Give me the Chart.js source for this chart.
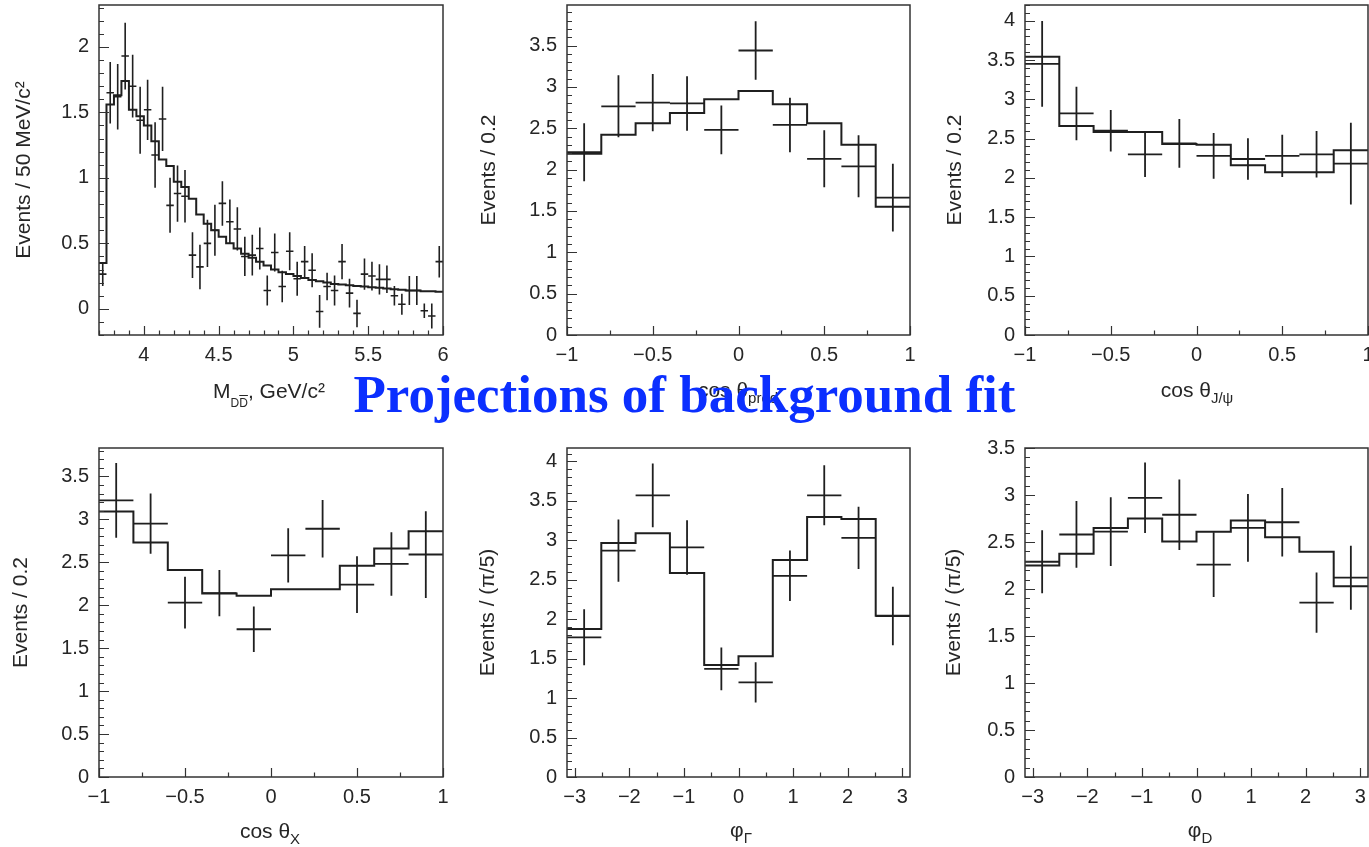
<!DOCTYPE html>
<html>
<head>
<meta charset="utf-8">
<script src="https://cdn.jsdelivr.net/npm/chart.js@4.4.1/dist/chart.umd.min.js"></script>
<style>
  html, body { margin: 0; padding: 0; background: #fff; width: 1369px; height: 847px; overflow: hidden; }
  canvas { position: absolute; left: 0; top: 0; }
  .xt { position: absolute; font: 21px/21px 'Liberation Sans', Arial, sans-serif; color: #262626;
        white-space: nowrap; transform: translateX(-50%); }
  .xt sub { font-size: 15px; line-height: 0; vertical-align: -6px; }
  .xt sub.small { font-size: 12px; vertical-align: -9px; }
  .ov { text-decoration: overline; }
  #title { position: absolute; left: 0; width: 1369px; top: 368px; text-align: center; white-space: nowrap;
           font: bold 53px/53px 'Liberation Serif', 'Times New Roman', serif; color: #0b2fff; }
</style>
</head>
<body>
<canvas id="c1" width="1369" height="847"></canvas>
<canvas id="c2" width="1369" height="847"></canvas>
<canvas id="c3" width="1369" height="847"></canvas>
<canvas id="c4" width="1369" height="847"></canvas>
<canvas id="c5" width="1369" height="847"></canvas>
<canvas id="c6" width="1369" height="847"></canvas>

<div class="xt" style="left:269px;top:380px">M<sub class="small">D<span class="ov">D</span></sub>, GeV/c²</div>
<div class="xt" style="left:738px;top:379px">cos θ<sub>prod</sub></div>
<div class="xt" style="left:1197px;top:379px">cos θ<sub>J/ψ</sub></div>
<div class="xt" style="left:270px;top:820px">cos θ<sub>X</sub></div>
<div class="xt" style="left:741px;top:819px">φ<sub>Γ</sub></div>
<div class="xt" style="left:1200px;top:819px">φ<sub>D</sub></div>
<div id="title">Projections of background fit</div>

<script>
// ---- M(DD̄): 46 bins of 50 MeV between 3.70 and 6.00 GeV/c² ----
const mddRange = [3.70, 6.00];
const mddData = [0.265, 1.65, 1.62, 1.93, 1.70, 1.44, 1.52, 1.175, 1.45, 0.79,
                 0.88, 0.86, 0.41, 0.32, 0.50, 0.60, 0.805, 0.665, 0.61, 0.40,
                 0.41, 0.46, 0.14, 0.43, 0.17, 0.44, 0.23, 0.36, 0.295, -0.02,
                 0.17, 0.14, 0.36, 0.12, -0.035, 0.265, 0.25, 0.225, 0.225, 0.10,
                 0.035, 0.14, 0.14, -0.015, -0.055, 0.36];
const mddErr  = [0.09, 0.235, 0.25, 0.255, 0.24, 0.255, 0.23, 0.25, 0.245, 0.21,
                 0.215, 0.20, 0.175, 0.17, 0.18, 0.195, 0.17, 0.17, 0.165, 0.15,
                 0.155, 0.16, 0.115, 0.145, 0.12, 0.145, 0.13, 0.12, 0.13, 0.125,
                 0.105, 0.115, 0.135, 0.11, 0.105, 0.12, 0.11, 0.115, 0.105, 0.075,
                 0.08, 0.11, 0.11, 0.055, 0.095, 0.12];
const mddFit  = [0.35, 1.56, 1.63, 1.74, 1.52, 1.47, 1.40, 1.28, 1.14, 1.09,
                 0.97, 0.93, 0.84, 0.72, 0.65, 0.60, 0.55, 0.50, 0.46, 0.42,
                 0.39, 0.36, 0.33, 0.30, 0.28, 0.265, 0.25, 0.235, 0.22, 0.21,
                 0.20, 0.19, 0.185, 0.18, 0.175, 0.17, 0.165, 0.16, 0.155, 0.15,
                 0.145, 0.14, 0.14, 0.135, 0.135, 0.13];
const mddXTicks = [4, 4.5, 5, 5.5, 6];
const mddYTicks = [0, 0.5, 1, 1.5, 2];

// ---- angular projections: 10 bins each ----
const cosRange = [-1, 1];
const phiRange = [-Math.PI, Math.PI];
const cosXTicks = [-1, -0.5, 0, 0.5, 1];
const phiXTicks = [-3, -2, -1, 0, 1, 2, 3];

const prodData = [2.21, 2.765, 2.81, 2.80, 2.48, 3.44, 2.54, 2.13, 2.04, 1.66];
const prodErr  = [0.35, 0.375, 0.345, 0.33, 0.295, 0.355, 0.33, 0.345, 0.375, 0.41];
const prodFit  = [2.19, 2.42, 2.56, 2.685, 2.85, 2.95, 2.79, 2.56, 2.30, 1.55];
const prodYTicks = [0, 0.5, 1, 1.5, 2, 2.5, 3, 3.5];

const jpsiData = [3.45, 2.82, 2.60, 2.30, 2.44, 2.28, 2.24, 2.28, 2.30, 2.18];
const jpsiErr  = [0.545, 0.34, 0.265, 0.29, 0.31, 0.29, 0.265, 0.27, 0.295, 0.52];
const jpsiFit  = [3.54, 2.66, 2.585, 2.585, 2.43, 2.42, 2.16, 2.07, 2.07, 2.35];
const jpsiYTicks = [0, 0.5, 1, 1.5, 2, 2.5, 3, 3.5, 4];

const cosXData = [3.22, 2.95, 2.03, 2.14, 1.72, 2.58, 2.89, 2.24, 2.48, 2.59];
const cosXErr  = [0.435, 0.35, 0.30, 0.27, 0.265, 0.315, 0.335, 0.33, 0.37, 0.505];
const cosXFit  = [3.09, 2.73, 2.41, 2.135, 2.11, 2.185, 2.185, 2.46, 2.66, 2.86];
const cosXYTicks = [0, 0.5, 1, 1.5, 2, 2.5, 3, 3.5];

const phiGData = [1.77, 2.87, 3.57, 2.91, 1.37, 1.20, 2.55, 3.57, 3.03, 2.04];
const phiGErr  = [0.355, 0.395, 0.405, 0.345, 0.27, 0.255, 0.32, 0.38, 0.395, 0.37];
const phiGFit  = [1.875, 2.965, 3.09, 2.585, 1.42, 1.53, 2.75, 3.295, 3.27, 2.045];
const phiGYTicks = [0, 0.5, 1, 1.5, 2, 2.5, 3, 3.5, 4];

const phiDData = [2.29, 2.58, 2.61, 2.97, 2.79, 2.26, 2.65, 2.71, 1.855, 2.12];
const phiDErr  = [0.335, 0.355, 0.365, 0.375, 0.375, 0.345, 0.36, 0.365, 0.32, 0.34];
const phiDFit  = [2.25, 2.375, 2.65, 2.75, 2.505, 2.61, 2.73, 2.55, 2.395, 2.03];
const phiDYTicks = [0, 0.5, 1, 1.5, 2, 2.5, 3, 3.5];

// ---- drawing helpers ----
const INK = '#1f1f1f';
const TEXT = '#262626';
const FONT = "'Liberation Sans', Arial, sans-serif";

// histogram steps: one point per bin low edge plus the closing upper edge
function stepPoints(range, values) {
  const w = (range[1] - range[0]) / values.length;
  const pts = values.map((v, i) => ({ x: range[0] + i * w, y: v }));
  pts.push({ x: range[1], y: values[values.length - 1] });
  return pts;
}

// data crosses: vertical error bar + horizontal bin-width bar, separated by gaps
function crossPoints(range, values, errs) {
  const w = (range[1] - range[0]) / values.length;
  const pts = [];
  values.forEach((v, i) => {
    const c = range[0] + (i + 0.5) * w;
    pts.push({ x: c, y: v - errs[i] }, { x: c, y: v + errs[i] }, { x: c, y: null });
    pts.push({ x: c - w / 2, y: v }, { x: c + w / 2, y: v }, { x: c, y: null });
  });
  return pts;
}

function fmt(v) {
  return String(Math.round(v * 100) / 100).replace('-', '\u2212');
}

// closed frame with inward major/minor ticks on the left and bottom axes
const rootFrame = {
  id: 'rootFrame',
  afterDraw(chart, args, o) {
    const { ctx, chartArea: a, scales: { x, y } } = chart;
    const isMul = (v, s) => Math.abs(v / s - Math.round(v / s)) < 1e-6;
    ctx.save();
    ctx.strokeStyle = '#333';
    ctx.lineWidth = 1.5;
    ctx.strokeRect(a.left, a.top, a.right - a.left, a.bottom - a.top);
    ctx.lineWidth = 1.2;
    ctx.beginPath();
    for (let k = Math.ceil(y.min / o.yMinor - 1e-6); k * o.yMinor <= y.max + 1e-9; k++) {
      const v = k * o.yMinor, py = Math.round(y.getPixelForValue(v)) + 0.5;
      ctx.moveTo(a.left, py);
      ctx.lineTo(a.left + (isMul(v, o.yMajor) ? 10 : 5), py);
    }
    for (let k = Math.ceil(x.min / o.xMinor - 1e-6); k * o.xMinor <= x.max + 1e-9; k++) {
      const v = k * o.xMinor, px = Math.round(x.getPixelForValue(v)) + 0.5;
      ctx.moveTo(px, a.bottom);
      ctx.lineTo(px, a.bottom - (isMul(v, o.xMajor) ? 9 : 4.5));
    }
    ctx.stroke();
    ctx.restore();
  }
};

const panels = [
  { canvas: 'c1', range: mddRange, data: mddData, err: mddErr, fit: mddFit,
    xTicks: mddXTicks, yTicks: mddYTicks, yMin: -0.2, yMax: 2.32,
    yTitle: 'Events / 50 MeV/c²', box: { l: 99, t: 5, r: 443, b: 335 }, titleX: 24.5,
    xMinor: 0.1, xMajor: 0.5, lw: 1.6 },
  { canvas: 'c2', range: cosRange, data: prodData, err: prodErr, fit: prodFit,
    xTicks: cosXTicks, yTicks: prodYTicks, yMin: 0, yMax: 3.99,
    yTitle: 'Events / 0.2', box: { l: 567, t: 5, r: 910, b: 335 }, titleX: 489,
    xMinor: 0.25, xMajor: 0.5, lw: 1.8 },
  { canvas: 'c3', range: cosRange, data: jpsiData, err: jpsiErr, fit: jpsiFit,
    xTicks: cosXTicks, yTicks: jpsiYTicks, yMin: 0, yMax: 4.2,
    yTitle: 'Events / 0.2', box: { l: 1025, t: 5, r: 1368, b: 335 }, titleX: 955,
    xMinor: 0.25, xMajor: 0.5, lw: 1.8 },
  { canvas: 'c4', range: cosRange, data: cosXData, err: cosXErr, fit: cosXFit,
    xTicks: cosXTicks, yTicks: cosXYTicks, yMin: 0, yMax: 3.83,
    yTitle: 'Events / 0.2', box: { l: 99, t: 448, r: 443, b: 777 }, titleX: 21,
    xMinor: 0.25, xMajor: 0.5, lw: 1.8 },
  { canvas: 'c5', range: phiRange, data: phiGData, err: phiGErr, fit: phiGFit,
    xTicks: phiXTicks, yTicks: phiGYTicks, yMin: 0, yMax: 4.17,
    yTitle: 'Events / (π/5)', box: { l: 567, t: 448, r: 910, b: 777 }, titleX: 488,
    xMinor: 0.5, xMajor: 1, lw: 1.8 },
  { canvas: 'c6', range: phiRange, data: phiDData, err: phiDErr, fit: phiDFit,
    xTicks: phiXTicks, yTicks: phiDYTicks, yMin: 0, yMax: 3.5,
    yTitle: 'Events / (π/5)', box: { l: 1025, t: 448, r: 1368, b: 777 }, titleX: 954,
    xMinor: 0.5, xMajor: 1, lw: 1.8 }
];

const X_AXIS_H = 40;

panels.forEach(p => {
  const padLeft = p.titleX - 10.5;
  new Chart(document.getElementById(p.canvas), {
    type: 'line',
    data: {
      datasets: [
        { data: stepPoints(p.range, p.fit), stepped: 'before', borderColor: INK,
          borderWidth: 2, pointRadius: 0, fill: false },
        { data: crossPoints(p.range, p.data, p.err), borderColor: INK,
          borderWidth: p.lw, pointRadius: 0, fill: false, spanGaps: false }
      ]
    },
    options: {
      responsive: false,
      animation: false,
      events: [],
      layout: { padding: { left: padLeft, top: p.box.t, right: 1369 - p.box.r,
                           bottom: 847 - p.box.b - X_AXIS_H } },
      plugins: {
        legend: { display: false },
        tooltip: { enabled: false },
        rootFrame: { xMinor: p.xMinor, xMajor: p.xMajor, yMinor: 0.1, yMajor: 0.5 }
      },
      scales: {
        x: {
          type: 'linear', min: p.range[0], max: p.range[1],
          grid: { display: false, drawTicks: false },
          border: { display: false },
          ticks: { font: { family: FONT, size: 20 }, color: TEXT, padding: 8,
                   maxRotation: 0, minRotation: 0, autoSkip: false, callback: v => fmt(v) },
          afterBuildTicks: s => { s.ticks = p.xTicks.map(v => ({ value: v })); },
          afterFit: s => { s.height = X_AXIS_H; s.paddingLeft = 0; s.paddingRight = 0; }
        },
        y: {
          type: 'linear', min: p.yMin, max: p.yMax,
          grid: { display: false, drawTicks: false },
          border: { display: false },
          ticks: { font: { family: FONT, size: 20 }, color: TEXT, padding: 10,
                   autoSkip: false, callback: v => fmt(v) },
          title: { display: true, text: p.yTitle, color: TEXT, padding: 0,
                   font: { family: FONT, size: 21, lineHeight: 1 } },
          afterBuildTicks: s => { s.ticks = p.yTicks.map(v => ({ value: v })); },
          afterFit: s => { s.width = p.box.l - padLeft; s.paddingTop = 0; s.paddingBottom = 0; }
        }
      }
    },
    plugins: [rootFrame]
  });
});
</script>
</body>
</html>
